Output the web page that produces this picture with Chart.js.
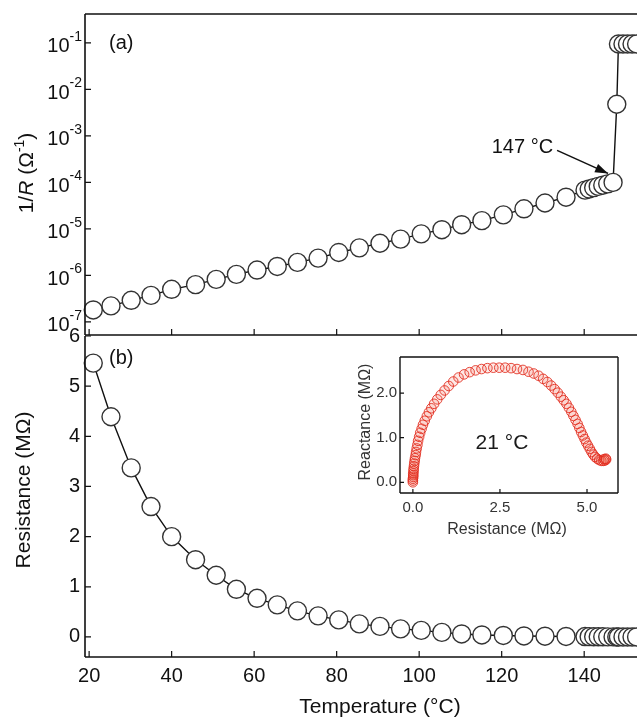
<!DOCTYPE html>
<html>
<head>
<meta charset="utf-8">
<script src="https://cdn.jsdelivr.net/npm/chart.js@4.4.1/dist/chart.umd.min.js"></script>
<style>
  body { margin: 0; background: #fff; }
  #wrap { position: relative; width: 637px; height: 718px; overflow: hidden; background: #fff; }
  canvas { position: absolute; }
</style>
</head>
<body>
<div id="wrap">
  <canvas id="top" width="637" height="340" style="left:0;top:0"></canvas>
  <canvas id="bottom" width="637" height="418" style="left:0;top:300px"></canvas>
  <canvas id="inset" width="275" height="205" style="left:355px;top:345px"></canvas>
</div>
<script>
// temperature of each measurement (ºC)
var temps = [21, 25.3, 30.2, 35, 40, 45.8, 50.8, 55.7, 60.7, 65.6, 70.5, 75.5, 80.5, 85.5,
  90.5, 95.5, 100.5, 105.5, 110.3, 115.2, 120.4, 125.4, 130.5, 135.6,
  140.2, 141.2, 142.3, 143.4, 144.5, 145.7, 147, 147.9,
  148.3, 149.4, 150.5, 151.6, 152.7];

// panel (a) 1/R in 1/ohm
var conductance = [1.8e-7, 2.2e-7, 2.9e-7, 3.7e-7, 5.0e-7, 6.3e-7, 8.2e-7, 1.05e-6, 1.3e-6, 1.55e-6,
  1.9e-6, 2.35e-6, 3.1e-6, 3.9e-6, 4.9e-6, 6.0e-6, 7.8e-6, 9.6e-6, 1.23e-5, 1.5e-5,
  2.0e-5, 2.7e-5, 3.6e-5, 4.8e-5,
  6.8e-5, 7.2e-5, 7.7e-5, 8.2e-5, 8.7e-5, 9.3e-5, 1.0e-4, 4.8e-3,
  0.095, 0.095, 0.095, 0.095, 0.095];

// panel (b) resistance in Mohm
var resistance = [5.46, 4.39, 3.37, 2.60, 2.00, 1.54, 1.23, 0.95, 0.77, 0.64,
  0.52, 0.42, 0.34, 0.26, 0.21, 0.16, 0.13, 0.09, 0.06, 0.04,
  0.03, 0.02, 0.015, 0.01,
  0.008, 0.006, 0.005, 0.004, 0.003, 0.002, 0.001, 0,
  0, 0, 0, 0, 0];

var tempTicks = [20, 40, 60, 80, 100, 120, 140];
var condTicks = [1e-7, 1e-6, 1e-5, 1e-4, 1e-3, 1e-2, 1e-1];
var resTicks = [0, 1, 2, 3, 4, 5, 6];

// inset: impedance at 21 ºC (Mohm)
var nyqRe = [0.00, 0.00, 0.00, 0.01, 0.01, 0.01, 0.02, 0.02, 0.03, 0.04, 0.05, 0.06, 0.08, 0.09, 0.11,
  0.13, 0.15, 0.18, 0.21, 0.25, 0.29, 0.34, 0.40, 0.46, 0.53, 0.61, 0.70, 0.80, 0.91, 1.03,
  1.16, 1.31, 1.47, 1.63, 1.80, 1.97, 2.14, 2.31, 2.48, 2.65, 2.82, 2.99, 3.16, 3.32, 3.47,
  3.61, 3.74, 3.86, 3.97, 4.07, 4.16, 4.25, 4.33, 4.41, 4.48, 4.55, 4.61, 4.67, 4.73, 4.78,
  4.83, 4.88, 4.93, 4.98, 5.03, 5.08, 5.13, 5.18, 5.23, 5.29, 5.35, 5.41, 5.47, 5.52, 5.55,
  5.54, 5.49];
var nyqIm = [0.00, 0.04, 0.08, 0.12, 0.16, 0.20, 0.25, 0.30, 0.36, 0.42, 0.48, 0.54, 0.61, 0.68, 0.76,
  0.84, 0.93, 1.02, 1.11, 1.20, 1.29, 1.38, 1.48, 1.57, 1.66, 1.76, 1.86, 1.96, 2.06, 2.16,
  2.26, 2.35, 2.42, 2.47, 2.51, 2.54, 2.56, 2.57, 2.57, 2.57, 2.56, 2.54, 2.52, 2.48, 2.44,
  2.39, 2.32, 2.25, 2.17, 2.09, 2.01, 1.92, 1.84, 1.76, 1.67, 1.58, 1.49, 1.40, 1.31, 1.22,
  1.13, 1.05, 0.97, 0.89, 0.82, 0.75, 0.68, 0.62, 0.57, 0.53, 0.50, 0.48, 0.48, 0.49, 0.51,
  0.53, 0.52];
var insetXTicks = [0, 2.5, 5];
var insetYTicks = [0, 1, 2];

var FONT = '"Liberation Sans", Arial, sans-serif';
function f(size, style) { return (style || '') + ' ' + size + 'px ' + FONT; }

// draw a row of text pieces centred on x,y (optionally rotated)
function rich(ctx, parts, x, y, rot) {
  ctx.save();
  ctx.translate(x, y);
  if (rot) ctx.rotate(rot);
  var w = 0;
  parts.forEach(function (p) { ctx.font = p.f; p.w = ctx.measureText(p.t).width; w += p.w; });
  var cx = -w / 2;
  ctx.textAlign = 'left';
  ctx.textBaseline = 'middle';
  parts.forEach(function (p) { ctx.font = p.f; ctx.fillText(p.t, cx, p.dy || 0); cx += p.w; });
  ctx.restore();
}

// frame + inward ticks
function frame(cfg) {
  return {
    id: 'frame',
    beforeDraw: function (chart) {
      if (!cfg.fill) return;
      var a = chart.chartArea, ctx = chart.ctx;
      ctx.save();
      ctx.fillStyle = '#fff';
      ctx.fillRect(a.left, a.top, a.right - a.left, a.bottom - a.top);
      ctx.restore();
    },
    afterDatasetsDraw: function (chart) {
      var ctx = chart.ctx, a = chart.chartArea;
      var xs = chart.scales.x, ys = chart.scales.y;
      ctx.save();
      ctx.strokeStyle = '#111';
      ctx.lineWidth = cfg.lw;
      ctx.beginPath();
      if (cfg.sides.indexOf('l') >= 0) { ctx.moveTo(a.left, a.top); ctx.lineTo(a.left, a.bottom); }
      if (cfg.sides.indexOf('t') >= 0) { ctx.moveTo(a.left, a.top); ctx.lineTo(a.right, a.top); }
      if (cfg.sides.indexOf('b') >= 0) { ctx.moveTo(a.left, a.bottom); ctx.lineTo(a.right, a.bottom); }
      if (cfg.sides.indexOf('r') >= 0) { ctx.moveTo(a.right, a.top); ctx.lineTo(a.right, a.bottom); }
      ctx.stroke();
      ctx.lineWidth = 1.2;
      ctx.beginPath();
      xs.ticks.forEach(function (t) {
        var p = xs.getPixelForValue(t.value);
        ctx.moveTo(p, a.bottom); ctx.lineTo(p, a.bottom - cfg.tl);
      });
      ys.ticks.forEach(function (t) {
        var p = ys.getPixelForValue(t.value);
        ctx.moveTo(a.left, p); ctx.lineTo(a.left + cfg.tl, p);
      });
      ctx.stroke();
      ctx.fillStyle = '#111';
      if (cfg.extra) cfg.extra(chart, ctx);
      ctx.restore();
    }
  };
}

function setTicks(arr) {
  return function (s) { s.ticks = arr.map(function (v) { return { value: v }; }); };
}

function pts(xa, ya) {
  return xa.map(function (x, i) { return { x: x, y: ya[i] }; });
}

var mainDataset = {
  showLine: true, borderColor: '#111', borderWidth: 1.4,
  pointRadius: 9, pointBorderColor: '#333', pointBackgroundColor: '#fff',
  pointBorderWidth: 1.4, clip: false
};

var common = {
  responsive: false, animation: false, events: [],
  plugins: { legend: { display: false }, tooltip: { enabled: false } }
};

// ---------- panel (a)
function drawTop(chart, ctx) {
  var a = chart.chartArea, ys = chart.scales.y, xs = chart.scales.x;
  ctx.fillStyle = '#111';
  condTicks.forEach(function (v) {
    var py = ys.getPixelForValue(v);
    var ex = String(Math.round(Math.log10(v)));
    ctx.textAlign = 'right';
    ctx.textBaseline = 'middle';
    ctx.font = f(14);
    var sw = ctx.measureText(ex).width;
    ctx.fillText(ex, a.left - 3, py - 6);
    ctx.font = f(20);
    ctx.fillText('10', a.left - 3 - sw, py + 4);
  });
  ctx.textAlign = 'left';
  ctx.font = f(20);
  ctx.fillText('(a)', a.left + 24, a.top + 29);

  rich(ctx, [
    { t: '1/', f: f(21) }, { t: 'R', f: f(21, 'italic') }, { t: ' (\u03A9', f: f(21) },
    { t: '-1', f: f(14), dy: -7 }, { t: ')', f: f(21) }
  ], 27, 173, -Math.PI / 2);

  // arrow to the 147 ºC point
  var k = temps.indexOf(147);
  var px = xs.getPixelForValue(temps[k]), py = ys.getPixelForValue(conductance[k]);
  var tip = { x: px - 5, y: py - 9 }, st = { x: px - 56, y: py - 32 };
  ctx.strokeStyle = '#111';
  ctx.lineWidth = 1.6;
  ctx.beginPath(); ctx.moveTo(st.x, st.y); ctx.lineTo(tip.x, tip.y); ctx.stroke();
  var ang = Math.atan2(tip.y - st.y, tip.x - st.x);
  ctx.beginPath();
  ctx.moveTo(tip.x, tip.y);
  ctx.lineTo(tip.x - 13 * Math.cos(ang) + 4.5 * Math.sin(ang), tip.y - 13 * Math.sin(ang) - 4.5 * Math.cos(ang));
  ctx.lineTo(tip.x - 13 * Math.cos(ang) - 4.5 * Math.sin(ang), tip.y - 13 * Math.sin(ang) + 4.5 * Math.cos(ang));
  ctx.closePath(); ctx.fill();
  ctx.textAlign = 'right';
  ctx.font = f(20);
  ctx.fillText('147 \u00B0C', st.x - 4, st.y - 3);
}

new Chart(document.getElementById('top'), {
  type: 'scatter',
  data: { datasets: [Object.assign({ data: pts(temps, conductance) }, mainDataset)] },
  options: Object.assign({}, common, {
    layout: { autoPadding: false, padding: { top: 14, right: 0, bottom: 0, left: 0 } },
    scales: {
      x: {
        type: 'linear', min: 19, max: 152.8,
        grid: { display: false, drawTicks: false }, border: { display: false },
        ticks: { display: false },
        afterBuildTicks: setTicks(tempTicks),
        afterFit: function (s) { s.height = 5; }
      },
      y: {
        type: 'logarithmic', min: 5.2e-8, max: 0.42,
        grid: { display: false, drawTicks: false }, border: { display: false },
        ticks: { display: false },
        afterBuildTicks: setTicks(condTicks),
        afterFit: function (s) { s.width = 85; }
      }
    }
  }),
  plugins: [frame({ sides: 'ltb', lw: 1.6, tl: 6, extra: drawTop })]
});

// ---------- panel (b)
function drawBottom(chart, ctx) {
  var a = chart.chartArea;
  ctx.textAlign = 'left';
  ctx.textBaseline = 'middle';
  ctx.font = f(20);
  ctx.fillText('(b)', a.left + 24, a.top + 22);
  rich(ctx, [{ t: 'Resistance (M\u03A9)', f: f(21) }], 24, 190, -Math.PI / 2);
  rich(ctx, [{ t: 'Temperature (\u00B0C)', f: f(21) }], 380, 407);
}

new Chart(document.getElementById('bottom'), {
  type: 'scatter',
  data: { datasets: [Object.assign({ data: pts(temps, resistance) }, mainDataset)] },
  options: Object.assign({}, common, {
    layout: { autoPadding: false, padding: { top: 36, right: 0, bottom: 0, left: 0 } },
    scales: {
      x: {
        type: 'linear', min: 19, max: 152.8,
        grid: { display: false, drawTicks: false }, border: { display: false },
        ticks: { font: { family: FONT, size: 20 }, color: '#111', padding: 7, maxRotation: 0 },
        afterBuildTicks: setTicks(tempTicks),
        afterFit: function (s) { s.height = 61; }
      },
      y: {
        type: 'linear', min: -0.4, max: 6,
        grid: { display: false, drawTicks: false }, border: { display: false },
        ticks: { font: { family: FONT, size: 20 }, color: '#111', padding: 5 },
        afterBuildTicks: setTicks(resTicks),
        afterFit: function (s) { s.width = 85; }
      }
    }
  }),
  plugins: [frame({ sides: 'lb', lw: 1.6, tl: 6, extra: drawBottom })]
});

// ---------- inset
function drawInset(chart, ctx) {
  ctx.fillStyle = '#1a1a1a';
  rich(ctx, [{ t: '21 \u00B0C', f: f(21) }], 147, 98);
  ctx.fillStyle = '#333';
  rich(ctx, [{ t: 'Resistance (M\u03A9)', f: f(16) }], 152, 185);
  rich(ctx, [{ t: 'Reactance (M\u03A9)', f: f(16) }], 11, 77, -Math.PI / 2);
}

new Chart(document.getElementById('inset'), {
  type: 'scatter',
  data: {
    datasets: [{
      data: pts(nyqRe, nyqIm),
      showLine: false, pointRadius: 4.8, pointBorderWidth: 1,
      pointBorderColor: 'rgba(226, 42, 28, 0.85)', pointBackgroundColor: 'rgba(240, 70, 50, 0.12)',
      clip: false
    }]
  },
  options: Object.assign({}, common, {
    layout: { autoPadding: false, padding: { top: 9, right: 12, bottom: 0, left: 0 } },
    scales: {
      x: {
        type: 'linear', min: -0.37, max: 5.89,
        grid: { display: false, drawTicks: false }, border: { display: false },
        ticks: { font: { family: FONT, size: 15 }, color: '#333', padding: 6, maxRotation: 0,
          callback: function (v) { return v.toFixed(1); } },
        afterBuildTicks: setTicks(insetXTicks),
        afterFit: function (s) { s.height = 57; }
      },
      y: {
        type: 'linear', min: -0.24, max: 2.81,
        grid: { display: false, drawTicks: false }, border: { display: false },
        ticks: { font: { family: FONT, size: 15 }, color: '#333', padding: 3,
          callback: function (v) { return v.toFixed(1); } },
        afterBuildTicks: setTicks(insetYTicks),
        afterFit: function (s) { s.width = 45; }
      }
    }
  }),
  plugins: [frame({ sides: 'ltbr', lw: 1.4, tl: 4, fill: true, extra: drawInset })]
});
</script>
</body>
</html>
